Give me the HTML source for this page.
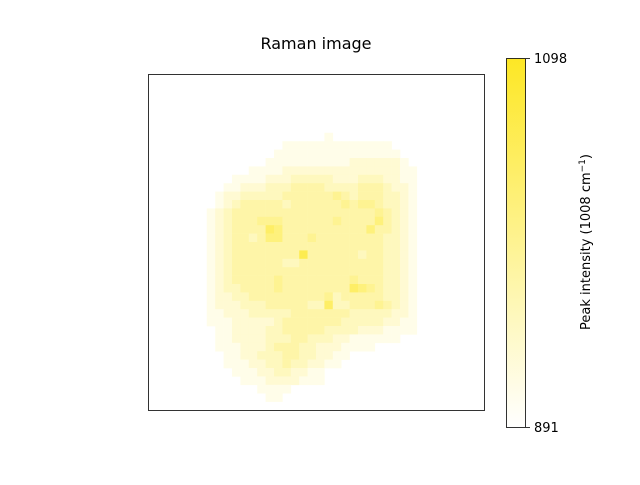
<!DOCTYPE html>
<html><head><meta charset="utf-8"><style>
body{margin:0;background:#fff;font-family:"Liberation Sans","DejaVu Sans",sans-serif;}
svg text{font-family:"DejaVu Sans","Liberation Sans",sans-serif;}
</style></head><body>
<svg id="chart" width="640" height="480">
<defs><linearGradient id="cb" x1="0" y1="1" x2="0" y2="0"><stop offset="0" stop-color="#ffffff"/><stop offset="1" stop-color="#fde725"/></linearGradient></defs>
<text x="316" y="49" font-size="16" text-anchor="middle">Raman image</text>
<g id="cells"></g>
<rect x="148.5" y="74.5" width="336" height="336" fill="none" stroke="#000" stroke-width="0.8"/>
<rect x="506.5" y="58.5" width="19" height="369" fill="url(#cb)" stroke="#000" stroke-width="0.8"/>
<line x1="526" y1="58.5" x2="530" y2="58.5" stroke="#000" stroke-width="0.8"/>
<line x1="526" y1="427.5" x2="530" y2="427.5" stroke="#000" stroke-width="0.8"/>
<text id="tmax" x="534" y="63" font-size="13"></text>
<text id="tmin" x="534" y="432" font-size="13"></text>
<text transform="translate(590,242) rotate(-90)" font-size="13" text-anchor="middle">Peak intensity (1008 cm<tspan dy="-5" font-size="9">−1</tspan><tspan dy="5">)</tspan></text>
</svg>
<script>
const tickLabels=["891","1098"];
const rows=["","","","","","","",
"000000000000000000000100",
"00000000000000001111111111111",
"000000000000000111111111111111",
"0000000000000011111111112222221",
"00000000000011112222222222222211",
"00000000001111222333332223332211",
"00000000011222333444433334443221",
"00000000122333334444445434443321",
"00000000123444443444444545543321",
"00000001234444444444444444454321",
"00000001234445554444445444464321",
"00000001234444764444444444644321",
"00000001234434664445444444443321",
"00000001234444444444444444443321",
"00000001234444444484444443443321",
"00000001234444443344444444443321",
"00000001234444444444444444443321",
"00000001234444454444444454443321",
"00000001233444454444444476543321",
"00000001223344444444453444443321",
"00000001222333444443373344454321",
"00000001122233333444444433333221",
"00000001112222234444444333332211",
"00000000112222334444433332221111",
"00000000112222333443332211111100",
"00000000111222344433222111100000",
"00000000011223334433221100000000",
"00000000011122334332211000000000",
"0000000000111223322110000000000",
"000000000001112222111000000000",
"00000000000001111000000000",
"0000000000000011000",""];
const N=40,x0=148,y0=74,S=336/N;
const g=document.getElementById('cells');
function color(v){const t=v/10;const r=Math.round(255+(253-255)*t),gg=Math.round(255+(231-255)*t),b=Math.round(255+(37-255)*t);return `rgb(${r},${gg},${b})`;}
rows.forEach((row,r)=>{const s=row.padEnd(N,'0');for(let c=0;c<N;c++){const v=+s[c];if(!v)continue;
const el=document.createElementNS('http://www.w3.org/2000/svg','rect');
el.setAttribute('x',x0+c*S);el.setAttribute('y',y0+r*S);el.setAttribute('width',S+0.3);el.setAttribute('height',S+0.3);el.setAttribute('fill',color(v));


g.appendChild(el);}});
document.getElementById('tmin').textContent=tickLabels[0];
document.getElementById('tmax').textContent=tickLabels[1];
</script>
</body></html>
